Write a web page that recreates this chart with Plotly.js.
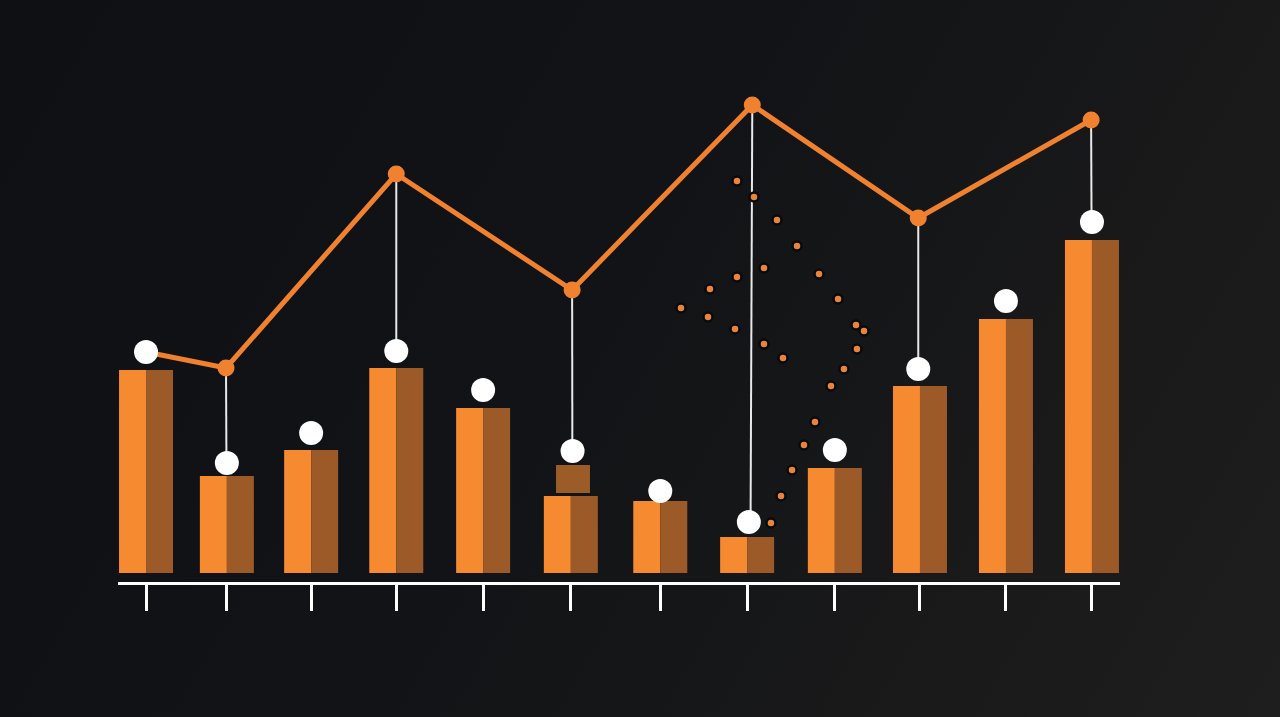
<!DOCTYPE html>
<html>
<head>
<meta charset="utf-8">
<script src="https://cdn.plot.ly/plotly-3.0.1.min.js"></script>
<style>
  html, body { margin:0; padding:0; width:1280px; height:717px; overflow:hidden;
    background: linear-gradient(120deg, #0e1013 0%, #111316 45%, #19191a 75%, #1e1e1e 100%); }
  #chart { width:1280px; height:717px; }
</style>
</head>
<body>
<div id="chart"></div>
<script>
// ---- data ----
const barX = [1, 1.94, 2.92, 3.91, 4.92, 5.94, 6.98, 7.99, 9.01, 10.0, 11.0, 12.0];
const barValues = [40.6, 19.4, 24.6, 41.0, 33.0, 15.4, 14.4, 7.2, 21.0, 37.4, 50.8, 66.6];
const dotX = [1, 1.94, 2.92, 3.91, 4.92, 5.96, 6.98, 8.01, 9.01, 9.98, 11.0, 12.0];
const dotValues = [44.2, 22.0, 28.0, 44.4, 36.6, 24.4, 16.4, 10.2, 24.6, 40.8, 54.4, 70.2];
const lineX = [1.0, 1.93, 3.91, 5.955, 8.05, 9.98, 11.99];
const lineValues = [44.2, 41.0, 79.8, 56.6, 93.6, 71.0, 90.6];
// which white dot each line point is hung from (index into dot arrays)
const stemDotIndex = [null, 1, 3, 5, 7, 9, 11];
const blockX = [5.965];
const blockBase = [16.0];
const blockHeight = [5.6];
const scatterX = [7.872, 8.070, 8.337, 8.570, 8.186, 7.872, 8.826, 7.558, 7.221, 9.047, 7.535, 7.849,
                  9.256, 9.349, 8.186, 9.267, 8.407, 9.116, 8.965, 8.779, 8.651, 8.512, 8.384, 8.267];
const scatterY = [78.4, 75.2, 70.6, 65.4, 61.0, 59.2, 59.8, 56.8, 53.0, 54.8, 51.2, 48.8,
                  49.6, 48.4, 45.8, 44.8, 43.0, 40.8, 37.4, 30.2, 25.6, 20.6, 15.4, 10.0];

// ---- build ----
const half = 0.314;
const stemX = [], stemY = [];
lineX.forEach((x, i) => {
  const d = stemDotIndex[i];
  if (d === null) return;
  stemX.push(x, (x + dotX[d]) / 2, null);
  stemY.push(lineValues[i], dotValues[d], null);
});

const traces = [
  { type:'bar', x:barX, y:barValues, width:half, offset:-half,
    marker:{color:'#f68a31', line:{width:0}}, hoverinfo:'skip' },
  { type:'bar', x:barX, y:barValues, width:half, offset:0,
    marker:{color:'#9b5a28', line:{width:0}}, hoverinfo:'skip' },
  { type:'bar', x:blockX, y:blockHeight, base:blockBase, width:0.395,
    marker:{color:'#9b5c27', line:{width:0}}, hoverinfo:'skip' },
  { type:'scatter', mode:'lines', x:stemX, y:stemY, connectgaps:false,
    line:{color:'#e8e8e8', width:2}, hoverinfo:'skip' },
  { type:'scatter', mode:'lines+markers', x:lineX, y:lineValues,
    line:{color:'#f0822f', width:5},
    marker:{color:'#f0822f', size:17}, cliponaxis:false, hoverinfo:'skip' },
  { type:'scatter', mode:'markers', x:dotX, y:dotValues,
    marker:{color:'#ffffff', size:24, line:{width:0}}, cliponaxis:false, hoverinfo:'skip' },
  { type:'scatter', mode:'markers', x:scatterX, y:scatterY,
    marker:{color:'#e8843c', size:9, line:{color:'#0a0a0a', width:2.5}}, hoverinfo:'skip' }
];

const layout = {
  width:1280, height:717,
  margin:{l:118, r:160, t:73, b:135},
  paper_bgcolor:'rgba(0,0,0,0)', plot_bgcolor:'rgba(0,0,0,0)',
  showlegend:false, barmode:'overlay',
  xaxis:{ range:[0.674, 12.326], showgrid:false, zeroline:false,
    showline:true, linecolor:'#ffffff', linewidth:3,
    ticks:'outside', ticklen:26, tickwidth:3, tickcolor:'#ffffff',
    tickmode:'array', tickvals:barX, showticklabels:false, fixedrange:true },
  yaxis:{ range:[-1.8, 100], visible:false, showgrid:false, zeroline:false, fixedrange:true }
};

Plotly.newPlot('chart', traces, layout, {displayModeBar:false, staticPlot:true});
</script>
</body>
</html>
